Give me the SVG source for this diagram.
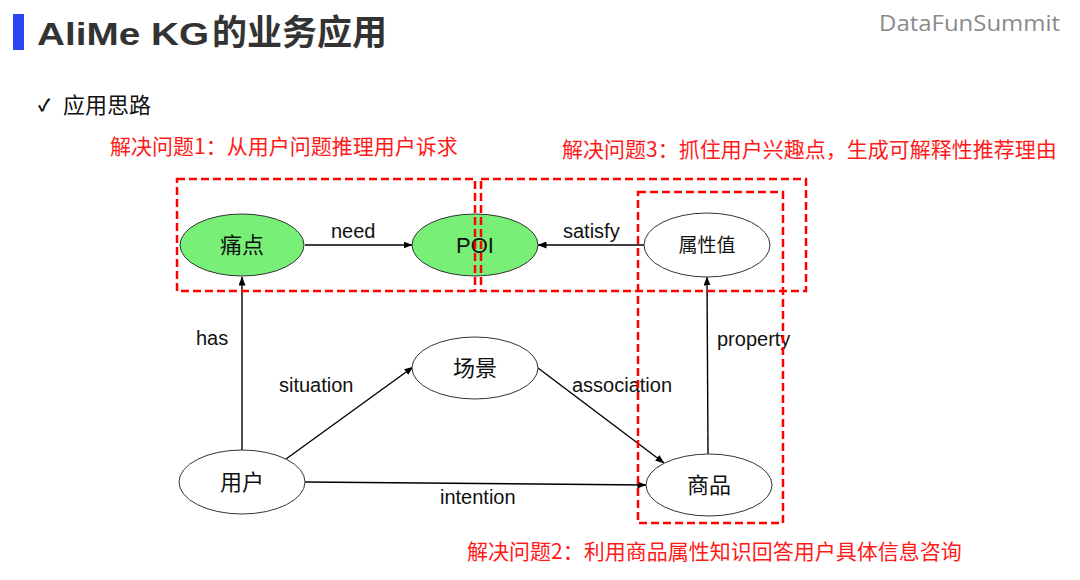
<svg xmlns="http://www.w3.org/2000/svg" width="1080" height="580" viewBox="0 0 1080 580">
<defs>
<marker id="arr" markerWidth="9" markerHeight="7" refX="8.5" refY="3.5" orient="auto" markerUnits="userSpaceOnUse">
<path d="M0,0 L9,3.5 L0,7 Z" fill="#000"/>
</marker>
</defs>
<style>
.cjk{font-family:"Noto Sans CJK SC","Noto Sans",sans-serif;}
.lat{font-family:"Liberation Sans",Arial,sans-serif;}
.node{stroke:#333;stroke-width:1;}
.green{fill:#78f078;}
.white{fill:#fff;}
.edge{stroke:#000;stroke-width:1.4;fill:none;marker-end:url(#arr);}
.lbl{font-family:"Liberation Sans",Arial,sans-serif;font-size:20px;fill:#111;}
.red{font-family:"Noto Sans CJK SC",sans-serif;font-size:21px;fill:#ff1a1a;}
.box{fill:none;stroke:#ff0000;stroke-width:2.5;stroke-dasharray:8 4;}
.nt{font-size:22px;fill:#111;text-anchor:middle;}
</style>
<rect width="1080" height="580" fill="#fff"/>
<g id="header">
<rect x="13" y="14" width="11" height="36" fill="#2a44f2"/>
<text x="37" y="45" font-family="'Liberation Sans',Arial,sans-serif" font-weight="bold" font-size="32" fill="#333" textLength="172" lengthAdjust="spacingAndGlyphs">AliMe KG</text>
<text x="212" y="45" class="cjk" font-weight="bold" font-size="35" fill="#333">的业务应用</text>
<text x="879" y="31" font-family="'Open Sans',sans-serif" font-size="22" fill="#8a8a8a" textLength="181" lengthAdjust="spacingAndGlyphs">DataFunSummit</text>
<text x="38" y="111" class="cjk" font-size="17" font-weight="bold" fill="#111">✓</text>
<text x="63" y="113" class="cjk" font-size="22" fill="#111">应用思路</text>
</g>
<g id="red-notes">
<text x="110" y="154" class="red">解决问题1：从用户问题推理用户诉求</text>
<text x="562" y="157" class="red">解决问题3：抓住用户兴趣点，生成可解释性推荐理由</text>
<text x="467" y="559" class="red">解决问题2：利用商品属性知识回答用户具体信息咨询</text>
</g>
<g id="connectors">
<line class="edge" x1="305" y1="245" x2="412" y2="245"/>
<line class="edge" x1="644" y1="245" x2="538" y2="245"/>
<line class="edge" x1="242" y1="450" x2="242" y2="277"/>
<line class="edge" x1="286" y1="459" x2="413" y2="367"/>
<line class="edge" x1="538" y1="368" x2="664" y2="463"/>
<line class="edge" x1="305" y1="482" x2="646" y2="485"/>
<line class="edge" x1="708" y1="454" x2="707" y2="277"/>
<text class="lbl" x="331" y="238">need</text>
<text class="lbl" x="563" y="238">satisfy</text>
<text class="lbl" x="196" y="345">has</text>
<text class="lbl" x="279" y="392">situation</text>
<text class="lbl" x="572" y="392">association</text>
<text class="lbl" x="440" y="504">intention</text>
<text class="lbl" x="717" y="346">property</text>
</g>
<g id="node-tongdian">
<ellipse class="node green" cx="242" cy="245" rx="62" ry="31"/>
<text class="cjk nt" x="242" y="253">痛点</text>
</g>
<g id="node-poi">
<ellipse class="node green" cx="475" cy="245" rx="63" ry="31"/>
<text class="lat nt" x="475" y="253" font-size="23">POI</text>
</g>
<g id="node-shuxingzhi">
<ellipse class="node white" cx="707" cy="245" rx="63" ry="32"/>
<text class="cjk nt" x="707" y="252" style="font-size:19px">属性值</text>
</g>
<g id="node-changjing">
<ellipse class="node white" cx="475" cy="368" rx="63" ry="31"/>
<text class="cjk nt" x="475" y="376">场景</text>
</g>
<g id="node-yonghu">
<ellipse class="node white" cx="242" cy="482" rx="63" ry="32"/>
<text class="cjk nt" x="242" y="490">用户</text>
</g>
<g id="node-shangpin">
<ellipse class="node white" cx="709" cy="485" rx="63" ry="31"/>
<text class="cjk nt" x="709" y="493">商品</text>
</g>
<g id="boxes">
<rect class="box" x="177" y="179" width="298" height="112"/>
<rect class="box" x="481" y="179" width="325" height="112"/>
<rect class="box" x="638" y="192" width="145" height="331"/>
</g>
</svg>
